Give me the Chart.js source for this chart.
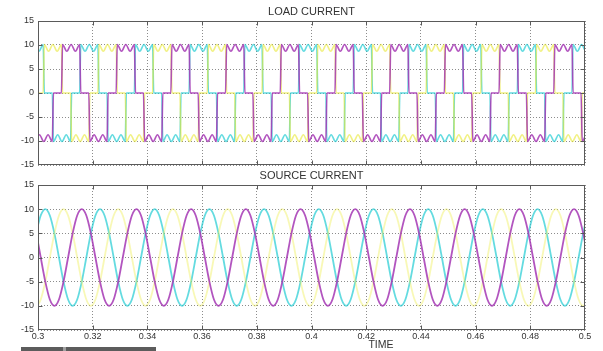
<!DOCTYPE html>
<html>
<head>
<meta charset="utf-8">
<script src="https://cdn.jsdelivr.net/npm/chart.js@4.4.1/dist/chart.umd.min.js"></script>
<style>
  html, body { margin: 0; padding: 0; background: #fff; }
  #wrap { position: relative; width: 603px; height: 351px; overflow: hidden; background: #fff; }
  #loadCv { position: absolute; left: 0; top: 0; width: 603px; height: 172px; }
  #srcCv { position: absolute; left: 0; top: 170px; width: 603px; height: 181px; }
</style>
</head>
<body>
<div id="wrap">
  <canvas id="loadCv" width="603" height="172"></canvas>
  <canvas id="srcCv" width="603" height="181"></canvas>
</div>
<script>
// ---- axis ticks ----
const timeTicks = [0.3, 0.32, 0.34, 0.36, 0.38, 0.4, 0.42, 0.44, 0.46, 0.48, 0.5];
const timeTickLabels = ['0.3', '0.32', '0.34', '0.36', '0.38', '0.4', '0.42', '0.44', '0.46', '0.48', '0.5'];
const currentTicks = [-15, -10, -5, 0, 5, 10, 15];

// ---- load current: start times (s) of the +I and -I conduction blocks of each phase ----
const loadYellowPos  = [0.30210, 0.32210, 0.34210, 0.36210, 0.38210, 0.40210, 0.42210, 0.44210, 0.46210, 0.48210, 0.50210];
const loadYellowNeg  = [0.29210, 0.31210, 0.33210, 0.35210, 0.37210, 0.39210, 0.41210, 0.43210, 0.45210, 0.47210, 0.49210];
const loadMagentaPos = [0.30877, 0.32877, 0.34877, 0.36877, 0.38877, 0.40877, 0.42877, 0.44877, 0.46877, 0.48877];
const loadMagentaNeg = [0.29877, 0.31877, 0.33877, 0.35877, 0.37877, 0.39877, 0.41877, 0.43877, 0.45877, 0.47877, 0.49877];
const loadCyanPos    = [0.29543, 0.31543, 0.33543, 0.35543, 0.37543, 0.39543, 0.41543, 0.43543, 0.45543, 0.47543, 0.49543];
const loadCyanNeg    = [0.30543, 0.32543, 0.34543, 0.36543, 0.38543, 0.40543, 0.42543, 0.44543, 0.46543, 0.48543];
const blockDuration = 0.00667;           // 120 degree conduction
// ripple on each conduction block: position within the block and current magnitude
const rippleFrac  = [0, 0.25, 0.5, 0.75, 1];
const rippleLevel = [10.1, 8.7, 10.1, 8.7, 10.1];

// ---- source current: sample times (ms) shared by the three phases ----
const srcTimeMs = [300,
  301, 302.67, 304.33, 306, 307.67, 309.33, 311, 312.67, 314.33, 316, 317.67, 319.33,
  321, 322.67, 324.33, 326, 327.67, 329.33, 331, 332.67, 334.33, 336, 337.67, 339.33,
  341, 342.67, 344.33, 346, 347.67, 349.33, 351, 352.67, 354.33, 356, 357.67, 359.33,
  361, 362.67, 364.33, 366, 367.67, 369.33, 371, 372.67, 374.33, 376, 377.67, 379.33,
  381, 382.67, 384.33, 386, 387.67, 389.33, 391, 392.67, 394.33, 396, 397.67, 399.33,
  401, 402.67, 404.33, 406, 407.67, 409.33, 411, 412.67, 414.33, 416, 417.67, 419.33,
  421, 422.67, 424.33, 426, 427.67, 429.33, 431, 432.67, 434.33, 436, 437.67, 439.33,
  441, 442.67, 444.33, 446, 447.67, 449.33, 451, 452.67, 454.33, 456, 457.67, 459.33,
  461, 462.67, 464.33, 466, 467.67, 469.33, 471, 472.67, 474.33, 476, 477.67, 479.33,
  481, 482.67, 484.33, 486, 487.67, 489.33, 491, 492.67, 494.33, 496, 497.67, 499.33,
  500];
// source current values (A) per phase
const srcMagentaI = [3.1,
  0, -5, -8.7, -10, -8.7, -5, 0, 5, 8.7, 10, 8.7, 5,
  0, -5, -8.7, -10, -8.7, -5, 0, 5, 8.7, 10, 8.7, 5,
  0, -5, -8.7, -10, -8.7, -5, 0, 5, 8.7, 10, 8.7, 5,
  0, -5, -8.7, -10, -8.7, -5, 0, 5, 8.7, 10, 8.7, 5,
  0, -5, -8.7, -10, -8.7, -5, 0, 5, 8.7, 10, 8.7, 5,
  0, -5, -8.7, -10, -8.7, -5, 0, 5, 8.7, 10, 8.7, 5,
  0, -5, -8.7, -10, -8.7, -5, 0, 5, 8.7, 10, 8.7, 5,
  0, -5, -8.7, -10, -8.7, -5, 0, 5, 8.7, 10, 8.7, 5,
  0, -5, -8.7, -10, -8.7, -5, 0, 5, 8.7, 10, 8.7, 5,
  0, -5, -8.7, -10, -8.7, -5, 0, 5, 8.7, 10, 8.7, 5,
  3.1];
const srcCyanI = [6.7,
  8.7, 10, 8.7, 5, 0, -5, -8.7, -10, -8.7, -5, 0, 5,
  8.7, 10, 8.7, 5, 0, -5, -8.7, -10, -8.7, -5, 0, 5,
  8.7, 10, 8.7, 5, 0, -5, -8.7, -10, -8.7, -5, 0, 5,
  8.7, 10, 8.7, 5, 0, -5, -8.7, -10, -8.7, -5, 0, 5,
  8.7, 10, 8.7, 5, 0, -5, -8.7, -10, -8.7, -5, 0, 5,
  8.7, 10, 8.7, 5, 0, -5, -8.7, -10, -8.7, -5, 0, 5,
  8.7, 10, 8.7, 5, 0, -5, -8.7, -10, -8.7, -5, 0, 5,
  8.7, 10, 8.7, 5, 0, -5, -8.7, -10, -8.7, -5, 0, 5,
  8.7, 10, 8.7, 5, 0, -5, -8.7, -10, -8.7, -5, 0, 5,
  8.7, 10, 8.7, 5, 0, -5, -8.7, -10, -8.7, -5, 0, 5,
  6.7];
const srcYellowI = [-9.8,
  -8.7, -5, 0, 5, 8.7, 10, 8.7, 5, 0, -5, -8.7, -10,
  -8.7, -5, 0, 5, 8.7, 10, 8.7, 5, 0, -5, -8.7, -10,
  -8.7, -5, 0, 5, 8.7, 10, 8.7, 5, 0, -5, -8.7, -10,
  -8.7, -5, 0, 5, 8.7, 10, 8.7, 5, 0, -5, -8.7, -10,
  -8.7, -5, 0, 5, 8.7, 10, 8.7, 5, 0, -5, -8.7, -10,
  -8.7, -5, 0, 5, 8.7, 10, 8.7, 5, 0, -5, -8.7, -10,
  -8.7, -5, 0, 5, 8.7, 10, 8.7, 5, 0, -5, -8.7, -10,
  -8.7, -5, 0, 5, 8.7, 10, 8.7, 5, 0, -5, -8.7, -10,
  -8.7, -5, 0, 5, 8.7, 10, 8.7, 5, 0, -5, -8.7, -10,
  -8.7, -5, 0, 5, 8.7, 10, 8.7, 5, 0, -5, -8.7, -10,
  -9.8];

// ---- styling ----
const FONT = "'Liberation Sans', Arial, Helvetica, sans-serif";
const TEXT = '#333';
const MAGENTA = 'rgba(165, 55, 180, 0.85)';
const CYAN = 'rgba(40, 205, 212, 0.72)';
const YELLOW = 'rgba(232, 232, 50, 0.6)';
const YELLOW_PALE = 'rgba(238, 238, 80, 0.42)';

function zipMs(tsMs, vs) { return tsMs.map((t, i) => ({ x: t / 1000, y: vs[i] })); }

// builds the six-step phase current from its conduction blocks
function conductionTrace(posStarts, negStarts) {
  const blocks = posStarts.map(s => [s, 1]).concat(negStarts.map(s => [s, -1]))
    .sort((a, b) => a[0] - b[0]);
  const ramp = 0.0002;
  const pts = [];
  blocks.forEach(([s, sign]) => {
    const e = s + blockDuration;
    pts.push({ x: s - ramp, y: 0 });
    rippleFrac.forEach((f, i) => {
      pts.push({ x: s + ramp + f * (blockDuration - 2 * ramp), y: sign * rippleLevel[i] });
    });
    pts.push({ x: e + ramp, y: 0 });
  });
  return pts;
}

// MATLAB-like axes box with inward tick marks
const boxPlugin = {
  id: 'axesBox',
  afterDatasetsDraw(chart) {
    const { ctx, chartArea: a, scales } = chart;
    const L = Math.round(a.left) + 0.5, R = Math.round(a.right) - 0.5;
    const T = Math.round(a.top) + 0.5, B = Math.round(a.bottom) - 0.5;
    ctx.save();
    ctx.strokeStyle = '#5a5a5a';
    ctx.lineWidth = 1;
    ctx.strokeRect(L, T, R - L, B - T);
    ctx.beginPath();
    const tl = 4;
    timeTicks.slice(1, -1).forEach(v => {
      const x = Math.round(scales.x.getPixelForValue(v)) + 0.5;
      ctx.moveTo(x, B); ctx.lineTo(x, B - tl);
      ctx.moveTo(x, T); ctx.lineTo(x, T + tl);
    });
    currentTicks.slice(1, -1).forEach(v => {
      const y = Math.round(scales.y.getPixelForValue(v)) + 0.5;
      ctx.moveTo(L, y); ctx.lineTo(L + tl, y);
      ctx.moveTo(R, y); ctx.lineTo(R - tl, y);
    });
    ctx.stroke();
    ctx.restore();
  }
};

// x-axis caption and the strip at the foot of the figure
const captionPlugin = {
  id: 'timeCaption',
  afterDraw(chart) {
    const { ctx } = chart;
    ctx.save();
    ctx.fillStyle = TEXT;
    ctx.font = '10.5px ' + FONT;
    ctx.textAlign = 'center';
    ctx.textBaseline = 'middle';
    ctx.fillText('TIME', 381, 175);
    ctx.fillStyle = '#5c5c5c';
    ctx.fillRect(21, 177, 42, 4);
    ctx.fillRect(66, 177, 90, 4);
    ctx.fillStyle = '#a0a0a0';
    ctx.fillRect(63, 177, 3, 4);
    ctx.restore();
  }
};

function scalesFor(showTimeLabels) {
  return {
    x: {
      type: 'linear', min: 0.3, max: 0.5,
      afterBuildTicks: s => { s.ticks = timeTicks.map(v => ({ value: v })); },
      ticks: {
        display: showTimeLabels, autoSkip: false, maxRotation: 0, minRotation: 0, padding: 1,
        color: TEXT, font: { family: FONT, size: 9 },
        callback: (v, i) => timeTickLabels[i]
      },
      grid: { color: '#8c8c8c', lineWidth: 1, drawTicks: false },
      border: { display: false, dash: [1, 2] },
      afterFit: s => { s.height = showTimeLabels ? 21 : 7; s.paddingLeft = 0; s.paddingRight = 0; }
    },
    y: {
      type: 'linear', min: -15, max: 15,
      afterBuildTicks: s => { s.ticks = currentTicks.map(v => ({ value: v })); },
      ticks: {
        padding: 4, color: TEXT, font: { family: FONT, size: 9 },
        callback: v => String(v)
      },
      grid: { color: '#8c8c8c', lineWidth: 1, drawTicks: false },
      border: { display: false, dash: [1, 2] },
      afterFit: s => { s.width = 38; s.paddingTop = 0; s.paddingBottom = 0; }
    }
  };
}

function baseOptions(title, titlePad, showTimeLabels) {
  return {
    responsive: false,
    animation: false,
    events: [],
    layout: { padding: { left: 0, right: 18, top: 0, bottom: 0 } },
    plugins: {
      legend: { display: false },
      tooltip: { enabled: false },
      title: {
        display: true, text: title, color: TEXT, fullSize: false,
        font: { family: FONT, size: 11, weight: 'normal', lineHeight: 1 },
        padding: titlePad
      }
    },
    elements: { point: { radius: 0 } },
    scales: scalesFor(showTimeLabels)
  };
}

function lineSet(label, data, color, order, width) {
  return {
    label, data, order,
    borderColor: color, borderWidth: width,
    pointRadius: 0, fill: false,
    cubicInterpolationMode: 'monotone'
  };
}

new Chart(document.getElementById('loadCv'), {
  type: 'line',
  data: {
    datasets: [
      lineSet('Phase b', conductionTrace(loadMagentaPos, loadMagentaNeg), MAGENTA, 1, 1.6),
      lineSet('Phase a', conductionTrace(loadYellowPos, loadYellowNeg), YELLOW, 2, 1.6),
      lineSet('Phase c', conductionTrace(loadCyanPos, loadCyanNeg), CYAN, 3, 1.6)
    ]
  },
  options: baseOptions('LOAD CURRENT', { top: 6, bottom: 4 }, false),
  plugins: [boxPlugin]
});

new Chart(document.getElementById('srcCv'), {
  type: 'line',
  data: {
    datasets: [
      lineSet('Phase b', zipMs(srcTimeMs, srcMagentaI), MAGENTA, 1, 1.8),
      lineSet('Phase a', zipMs(srcTimeMs, srcYellowI), YELLOW_PALE, 2, 1.8),
      lineSet('Phase c', zipMs(srcTimeMs, srcCyanI), CYAN, 3, 1.8)
    ]
  },
  options: baseOptions('SOURCE CURRENT', { top: 0, bottom: 4 }, true),
  plugins: [boxPlugin, captionPlugin]
});
</script>
</body>
</html>
